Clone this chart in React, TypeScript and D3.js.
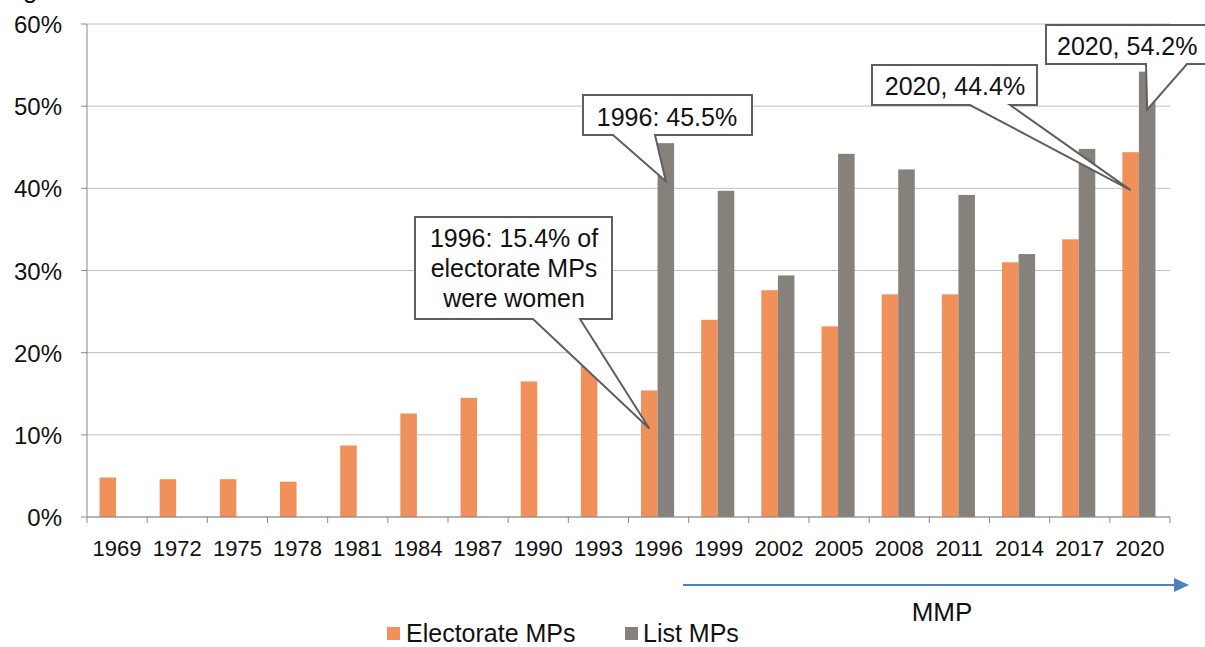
import React from "react";
import * as d3 from "d3";

const years = ["1969","1972","1975","1978","1981","1984","1987","1990","1993","1996","1999","2002","2005","2008","2011","2014","2017","2020"];
const electorateMPs: (number | null)[] = [4.8, 4.6, 4.6, 4.3, 8.7, 12.6, 14.5, 16.5, 21.2, 15.4, 24.0, 27.6, 23.2, 27.1, 27.1, 31.0, 33.8, 44.4];
const listMPs: (number | null)[] = [null, null, null, null, null, null, null, null, null, 45.5, 39.7, 29.4, 44.2, 42.3, 39.2, 32.0, 44.8, 54.2];
const yTicks = [0, 10, 20, 30, 40, 50, 60];
const seriesKeys = ["Electorate MPs", "List MPs"];
const colors = ["#F0905A", "#86827B"];

type Callout = {
  lines: string[];
  series: number; // 0 electorate, 1 list
  year: string;
  box: [number, number, number, number]; // x0,y0,x1,y1
  base: [number, number];
  anchor: "middle" | "start";
  textX: number;
  baselines: number[];
};

const callouts: Callout[] = [
  { lines: ["1996: 15.4% of", "electorate MPs", "were women"], series: 0, year: "1996", box: [415, 217, 612, 319], base: [533, 580], anchor: "middle", textX: 514, baselines: [247, 277, 307] },
  { lines: ["1996: 45.5%"], series: 1, year: "1996", box: [583, 95, 752, 135], base: [613, 655], anchor: "middle", textX: 667, baselines: [126] },
  { lines: ["2020, 44.4%"], series: 0, year: "2020", box: [872, 65, 1037, 105], base: [970, 1010], anchor: "middle", textX: 955, baselines: [95] },
  { lines: ["2020, 54.2%"], series: 1, year: "2020", box: [1046, 25, 1240, 64], base: [1146, 1187], anchor: "start", textX: 1057, baselines: [55] },
];

export default function App() {
  const W = 1205, H = 647;
  const left = 87, right = 1170, top = 24, bottom = 517;
  const x = d3.scaleBand<string>().domain(years).range([left, right]).padding(0);
  const bw = x.bandwidth();
  const xi = d3.scaleBand<string>().domain(seriesKeys).range([bw * 0.208, bw * 0.758]).padding(0);
  const y = d3.scaleLinear().domain([0, 60]).range([bottom, top]);
  const font = "'Liberation Sans', Arial, sans-serif";
  const seriesData = [electorateMPs, listMPs];

  return (
    <svg width={W} height={H} style={{ position: "absolute", left: 0, top: 0, background: "#fff" }} fontFamily={font}>
      <rect x={0} y={0} width={W} height={H} fill="#fff" />
      <text x={23} y={-2} fontSize={26} fill="#111">g</text>
      {/* gridlines */}
      {yTicks.map((t) => (
        <line key={"g" + t} x1={left} x2={right} y1={y(t)} y2={y(t)} stroke="#BEBEBE" strokeWidth={1} />
      ))}
      {/* y ticks & labels */}
      {yTicks.map((t) => (
        <g key={"yt" + t}>
          <line x1={left - 6} x2={left} y1={y(t)} y2={y(t)} stroke="#888" strokeWidth={1} />
          <text x={62} y={y(t) + 9} fontSize={24} textAnchor="end" fill="#111">{t + "%"}</text>
        </g>
      ))}
      {/* bars */}
      {seriesData.map((arr, si) =>
        arr.map((v, i) =>
          v == null ? null : (
            <rect key={si + "-" + i} x={(x(years[i]) as number) + (xi(seriesKeys[si]) as number)} y={y(v)} width={xi.bandwidth()} height={y(0) - y(v)} fill={colors[si]} />
          )
        )
      )}
      {/* axes */}
      <line x1={left} x2={left} y1={top} y2={bottom} stroke="#888" strokeWidth={1} />
      <line x1={left} x2={right} y1={bottom} y2={bottom} stroke="#888" strokeWidth={1} />
      {years.map((yr) => (
        <line key={"xt" + yr} x1={x(yr) as number} x2={x(yr) as number} y1={bottom} y2={bottom + 6} stroke="#888" strokeWidth={1} />
      ))}
      <line x1={right} x2={right} y1={bottom} y2={bottom + 6} stroke="#888" strokeWidth={1} />
      {years.map((yr) => (
        <text key={"xl" + yr} x={(x(yr) as number) + bw / 2} y={556} fontSize={22} textAnchor="middle" fill="#111">{yr}</text>
      ))}
      {/* callouts */}
      {callouts.map((c, ci) => {
        const i = years.indexOf(c.year);
        const v = seriesData[c.series][i] as number;
        const tx = (x(c.year) as number) + (xi(seriesKeys[c.series]) as number) + xi.bandwidth() / 2;
        const ty = y(v) + 38;
        const [x0, y0, x1, y1] = c.box;
        const d = `M${x0},${y0} L${x1},${y0} L${x1},${y1} L${c.base[1]},${y1} L${tx},${ty} L${c.base[0]},${y1} L${x0},${y1} Z`;
        return (
          <g key={"c" + ci}>
            <path d={d} fill="#fff" stroke="#5F5F5F" strokeWidth={2} strokeLinejoin="miter" />
            {c.lines.map((ln, li) => (
              <text key={li} x={c.textX} y={c.baselines[li]} fontSize={25} textAnchor={c.anchor} fill="#111">{ln}</text>
            ))}
          </g>
        );
      })}
      {/* MMP arrow */}
      <line x1={683} x2={1176} y1={585} y2={585} stroke="#4F81BD" strokeWidth={2} />
      <path d="M1174,578 L1189,585 L1174,592 Z" fill="#4F81BD" />
      <text x={942} y={621} fontSize={26} textAnchor="middle" fill="#111">MMP</text>
      {/* legend */}
      <rect x={387} y={627} width={13} height={13} fill={colors[0]} />
      <text x={406} y={642} fontSize={25} fill="#111">{seriesKeys[0]}</text>
      <rect x={625} y={627} width={13} height={13} fill={colors[1]} />
      <text x={643} y={642} fontSize={25} fill="#111">{seriesKeys[1]}</text>
    </svg>
  );
}
